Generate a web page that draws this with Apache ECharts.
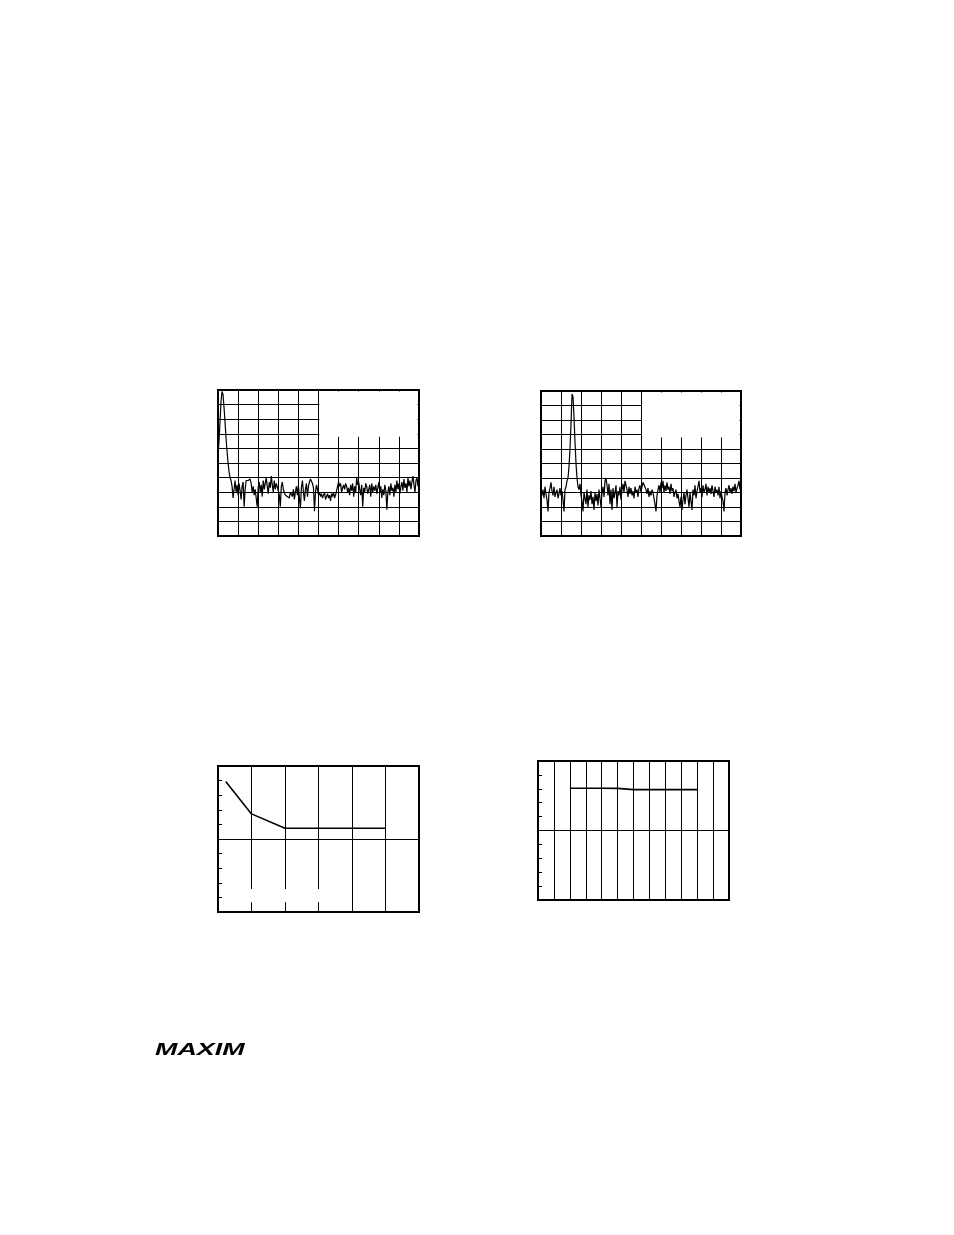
<!DOCTYPE html>
<html><head><meta charset="utf-8">
<script src="https://cdn.jsdelivr.net/npm/echarts@6/dist/echarts.min.js"></script>
<style>html,body{margin:0;padding:0;background:#fff}#c{width:954px;height:1235px}</style>
</head><body><div id="c"></div>
<script>
// Spectrum 1 (dB), one value per sweep point 0..200
const spectrum1 = [
-45,-35,-22,-8,-1,-3,-12,-22,-33,-42,
-50,-56,-60,-62,-66,-74,-68,-62,-70,-65,
-72,-64,-69,-75,-66,-63,-80,-68,-62,-61,
-62,-63,-61,-64,-70,-66,-72,-68,-74,-80,
-67,-63,-70,-65,-73,-62,-68,-64,-60,-66,
-71,-63,-67,-59,-65,-70,-62,-68,-64,-63,
-69,-72,-80,-66,-63,-68,-70,-72,-71,-73,
-72,-74,-70,-71,-73,-68,-75,-70,-66,-72,
-65,-74,-81,-67,-62,-70,-76,-68,-64,-73,
-66,-63,-61,-62,-64,-67,-83,-70,-65,-68,
-72,-70,-73,-71,-74,-72,-70,-75,-73,-71,
-74,-72,-76,-71,-73,-70,-74,-72,-69,-68,
-63,-66,-64,-70,-67,-65,-68,-64,-66,-70,
-67,-72,-65,-69,-64,-73,-66,-70,-60,-65,
-63,-68,-72,-65,-80,-67,-70,-64,-66,-71,
-68,-65,-73,-64,-70,-66,-69,-65,-71,-67,
-63,-70,-66,-74,-68,-72,-65,-69,-82,-70,
-66,-72,-64,-69,-67,-73,-65,-70,-62,-68,
-64,-71,-66,-63,-69,-61,-67,-64,-70,-60,
-66,-62,-68,-63,-59,-65,-70,-62,-60,-66,
-64];
// Spectrum 2 (dB)
const spectrum2 = [
-70,-72,-68,-74,-66,-71,-75,-83,-70,-67,
-63,-69,-72,-66,-73,-70,-68,-74,-71,-67,
-72,-69,-75,-83,-68,-66,-62,-60,-52,-40,
-23,-2,-4,-18,-35,-50,-60,-66,-68,-64,
-72,-76,-83,-70,-74,-78,-68,-80,-72,-75,
-69,-78,-73,-82,-70,-76,-71,-79,-68,-74,
-80,-70,-66,-73,-62,-60,-65,-72,-64,-78,
-68,-82,-67,-74,-70,-65,-80,-69,-72,-66,
-75,-68,-64,-70,-62,-61,-68,-73,-66,-71,
-67,-72,-69,-74,-66,-70,-68,-73,-67,-65,
-70,-66,-63,-62,-64,-68,-71,-67,-73,-69,
-72,-68,-70,-74,-78,-83,-72,-68,-65,-70,
-63,-67,-62,-70,-65,-69,-63,-68,-66,-71,
-64,-69,-67,-73,-70,-68,-74,-71,-76,-80,
-73,-82,-75,-70,-78,-72,-68,-74,-80,-70,
-76,-82,-68,-72,-65,-74,-69,-66,-62,-70,
-67,-73,-65,-70,-68,-64,-72,-66,-70,-67,
-71,-65,-69,-73,-66,-70,-68,-72,-66,-74,
-69,-73,-76,-83,-70,-67,-72,-68,-65,-70,
-67,-71,-66,-69,-64,-70,-67,-65,-62,-68,
-66];
// Chart 3
const c3X = [0.23, 1, 2, 3, 4, 5];
const c3Y = [8.93, 6.72, 5.74, 5.74, 5.74, 5.74];
// Chart 4
const c4X = [2, 3, 4, 5, 6, 7, 8, 9, 10];
const c4Y = [8.04, 8.04, 8.04, 8.03, 7.94, 7.94, 7.94, 7.94, 7.94];

const chart = echarts.init(document.getElementById('c'), null, {renderer: 'canvas', width: 954, height: 1235});
const sl = {show: true, lineStyle: {color: '#000', width: 1}};
const hidden = {axisLine: {show: false}, axisTick: {show: false}, axisLabel: {show: false}};
function xVal(gi, max, interval) {
  return Object.assign({type: 'value', gridIndex: gi, min: 0, max: max, interval: interval, splitLine: sl}, hidden);
}
const grids = [
  {left: 218, top: 390, width: 201, height: 146},
  {left: 541, top: 391, width: 200, height: 145},
  {left: 218, top: 766, width: 201, height: 146},
  {left: 538, top: 761, width: 191, height: 139}
].map(g => Object.assign(g, {show: true, borderColor: '#000', borderWidth: 2, backgroundColor: 'transparent'}));

const tickAxis = gi => ({type: 'value', gridIndex: gi, min: 0, max: 10, interval: 1, axisLine: {show: false},
  axisTick: {show: true, inside: true, length: 4, lineStyle: {color: '#000', width: 1}}, axisLabel: {show: false}, splitLine: {show: false}});
const midAxis = gi => Object.assign({type: 'value', gridIndex: gi, min: 0, max: 10, interval: 5, splitLine: sl}, hidden);

const lineS = (xi, yi, data, w, c) => ({type: 'line', xAxisIndex: xi, yAxisIndex: yi, data: data, symbol: 'none',
  lineStyle: {color: c, width: w}, animation: false, silent: true});

chart.setOption({
  backgroundColor: '#fff',
  animation: false,
  grid: grids,
  xAxis: [xVal(0, 200, 20), xVal(1, 200, 20), xVal(2, 6, 1), xVal(3, 12, 1)],
  yAxis: [
    Object.assign({type: 'value', gridIndex: 0, min: -100, max: 0, interval: 10, splitLine: sl}, hidden),
    Object.assign({type: 'value', gridIndex: 1, min: -100, max: 0, interval: 10, splitLine: sl}, hidden),
    tickAxis(2), midAxis(2), tickAxis(3), midAxis(3)
  ],
  series: [
    lineS(0, 0, spectrum1.map((v, i) => [i, v]), 1.2, '#000'),
    lineS(1, 1, spectrum2.map((v, i) => [i, v]), 1.2, '#000'),
    lineS(2, 2, c3X.map((x, i) => [x, c3Y[i]]), 1.6, '#000'),
    lineS(3, 4, c4X.map((x, i) => [x, c4Y[i]]), 1.6, '#000')
  ]
});

function P(gi, pt) { return chart.convertToPixel({gridIndex: gi}, pt); }
function whiteRect(a, b, inset) {
  const x0 = Math.min(a[0], b[0]), x1 = Math.max(a[0], b[0]);
  const y0 = Math.min(a[1], b[1]), y1 = Math.max(a[1], b[1]);
  return {type: 'rect', z: 10, silent: true,
    shape: {x: x0 + inset[0], y: y0 + inset[1], width: x1 - x0 - inset[0] - inset[2], height: y1 - y0 - inset[1] - inset[3]},
    style: {fill: '#fff'}};
}
const g = [];
g.push(whiteRect(P(0, [100, 0]), P(0, [200, -32]), [1, 1.5, 1.5, 0]));
g.push(whiteRect(P(1, [100, 0]), P(1, [200, -32]), [1, 1.5, 1.5, 0]));
g.push(whiteRect(P(2, [0.6, 1.57]), P(2, [3.4, 0.66]), [0, 0, 0, 0]));
g.push({type: 'text', x: 155, y: 1043, scaleX: 1.68, z: 10, silent: true,
  style: {text: 'MAXIM', font: 'italic 900 16px "Liberation Sans", Arial, sans-serif', fill: '#000'}});
chart.setOption({graphic: g});
</script></body></html>
